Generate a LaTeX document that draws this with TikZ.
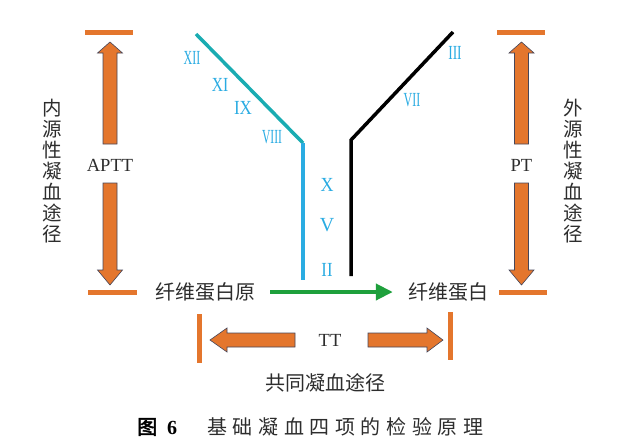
\documentclass[tikz,border=0pt]{standalone}
\usepackage{fontspec}
\setmainfont{Liberation Serif}
\newfontfamily\cjk[AutoFakeBold=2.5]{Noto Sans CJK SC}
\usetikzlibrary{arrows.meta}
\definecolor{org}{RGB}{228,118,45}
\definecolor{arrline}{RGB}{70,70,90}
\definecolor{tealc}{RGB}{26,172,178}
\definecolor{cyanc}{RGB}{42,172,226}
\definecolor{romc}{RGB}{41,171,226}
\definecolor{greenc}{RGB}{30,160,60}
\definecolor{txt}{RGB}{45,45,45}
\begin{document}
\begin{tikzpicture}[x=1pt,y=-1pt,
  bar/.style={draw=org,line width=5pt},
  barrow/.style={fill=org,draw=arrline,line width=0.6pt,line join=miter},
  vtext/.style={align=center,inner sep=0pt,text=txt,font=\cjk\fontsize{19.5}{21}\selectfont},
  ctext/.style={inner sep=3pt,text=txt,font=\cjk\fontsize{20}{22}\selectfont},
  ltext/.style={inner sep=0pt,text=txt,font=\fontsize{18.5}{20}\selectfont},
  rom/.style={inner sep=0pt,text=romc,font=\fontsize{20}{20}\selectfont},
  pathline/.style={line width=3.5pt}
]
\useasboundingbox (0,0) rectangle (621,445);
% bars
\draw[bar] (85,32) -- (133,32);
\draw[bar] (88,292) -- (137,292);
\draw[bar] (497,32) -- (545,32);
\draw[bar] (499,292) -- (547,292);
\draw[bar] (199,314) -- (199,363);
\draw[bar] (450,312) -- (450,360);
% left vertical block arrows
\draw[barrow] (110,42) -- (122.5,53) -- (117,53) -- (117,144) -- (103,144) -- (103,53) -- (97.5,53) -- cycle;
\draw[barrow] (110,285) -- (122.5,270) -- (117,270) -- (117,183) -- (103,183) -- (103,270) -- (97.5,270) -- cycle;
% right vertical block arrows
\draw[barrow] (521.5,42) -- (534,53) -- (528.5,53) -- (528.5,144) -- (514.5,144) -- (514.5,53) -- (509,53) -- cycle;
\draw[barrow] (521.5,285) -- (534,270) -- (528.5,270) -- (528.5,183) -- (514.5,183) -- (514.5,270) -- (509,270) -- cycle;
% bottom horizontal block arrows
\draw[barrow] (210,340) -- (227,328) -- (227,333) -- (295,333) -- (295,347) -- (227,347) -- (227,352) -- cycle;
\draw[barrow] (443,340) -- (427,328) -- (427,333) -- (368,333) -- (368,347) -- (427,347) -- (427,352) -- cycle;
% labels
\node[ltext] (aptt) at (110,165) {APTT};
\node[ltext] (pt) at (521.5,165) {PT};
\node[ltext] (tt) at (330,340) {TT};
\node[vtext] (intr) at (52,171) {内\\源\\性\\凝\\血\\途\\径};
\node[vtext] (extr) at (573,171) {外\\源\\性\\凝\\血\\途\\径};
\node[ctext] (fg) at (205,292) {纤维蛋白原};
\node[ctext] (fb) at (448,292) {纤维蛋白};
\node[ctext] (common) at (325,383) {共同凝血途径};
% pathway lines
\draw[pathline,tealc] (196,34) -- (303,143);
\draw[pathline,cyanc] (303,143) -- (303,280);
\draw[pathline,black] (351,276) -- (351,140) -- (453,32);
% green arrow
\draw[greenc,line width=4pt,-{Triangle[length=17pt,width=16pt]}] ([xshift=12pt]fg.east) -- ([xshift=-12pt]fb.west);
% roman numerals
\node[rom] (f12) at (192,58) {\scalebox{0.6}[1]{XII}};
\node[rom] (f11) at (220,85) {\scalebox{0.78}[1]{XI}};
\node[rom] (f9) at (243,108) {\scalebox{0.85}[1]{IX}};
\node[rom] (f8) at (272,137) {\scalebox{0.58}[1]{VIII}};
\node[rom] (f10) at (327,185) {\scalebox{0.9}[1]{X}};
\node[rom] (f5) at (327,225) {V};
\node[rom] (f2) at (327,270) {\scalebox{0.83}[1]{II}};
\node[rom] (f3) at (455,53) {\scalebox{0.67}[1]{III}};
\node[rom] (f7) at (412,100) {\scalebox{0.6}[1]{VII}};
% caption
\node[inner sep=0pt,anchor=west,text=black,font=\fontsize{20}{22}\selectfont\bfseries] (capnum) at (137,427) {{\cjk 图}\hspace{10pt}6};
\node[inner sep=0pt,anchor=west,text=txt,font=\cjk\fontsize{20}{22}\selectfont] (captxt) at (207,427) {基\hspace{5.6pt}础\hspace{5.6pt}凝\hspace{5.6pt}血\hspace{5.6pt}四\hspace{5.6pt}项\hspace{5.6pt}的\hspace{5.6pt}检\hspace{5.6pt}验\hspace{5.6pt}原\hspace{5.6pt}理};
\end{tikzpicture}
\end{document}
